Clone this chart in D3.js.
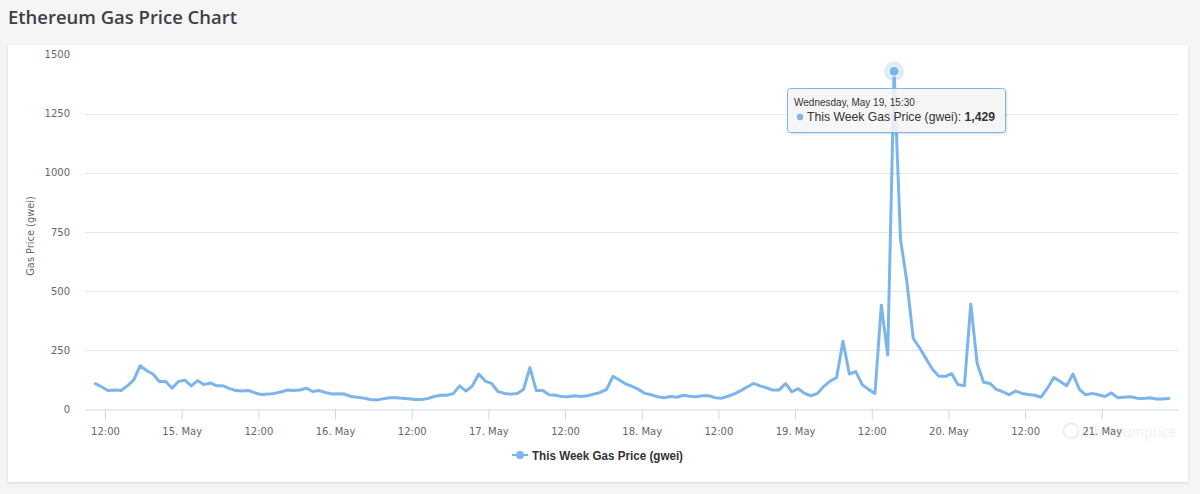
<!DOCTYPE html>
<html>
<head>
<meta charset="utf-8">
<script src="https://cdn.jsdelivr.net/npm/d3@7"></script>
<style>
  html, body { margin: 0; padding: 0; background: #f5f5f5; }
  svg { display: block; }
</style>
</head>
<body>
<svg id="chart" width="1200" height="494"></svg>
<script>
// ---- data ----
const chartTitle = "Ethereum Gas Price Chart";
const seriesName = "This Week Gas Price (gwei)";
const yAxisTitle = "Gas Price (gwei)";
const watermarkText = "ethereumprice";
const startTime = "2021-05-14T10:30:00Z"; // first sample, hourly samples
const gasPrice = [
  109, 95, 80, 82, 80, 100, 125, 185, 165, 150,
  118, 118, 90, 118, 124, 100, 122, 105, 112, 100,
  100, 88, 80, 78, 80, 70, 63, 65, 68, 74,
  82, 80, 82, 90, 76, 80, 72, 66, 67, 65,
  55, 52, 48, 42, 40, 45, 50, 50, 48, 45,
  42, 42, 46, 55, 60, 60, 67, 100, 78, 100,
  150, 120, 110, 76, 68, 65, 68, 85, 177, 80,
  80, 62, 60, 55, 54, 58, 55, 58, 65, 72,
  85, 140, 125, 108, 98, 85, 68, 62, 54, 50,
  55, 52, 60, 56, 54, 58, 58, 50, 48, 56,
  66, 80, 95, 110, 100, 92, 82, 82, 110, 75,
  88, 68, 58, 68, 98, 120, 135, 288, 150, 160,
  105, 85, 68, 441, 230, 1429, 720, 540, 300, 260,
  215, 170, 140, 140, 152, 105, 100, 445, 194, 115,
  110, 85, 75, 62, 78, 68, 63, 60, 52, 90,
  135, 118, 100, 150, 85, 62, 68, 62, 55, 70,
  50, 52, 54, 48, 46, 50, 44, 44, 46
];
const yTicks = [0, 250, 500, 750, 1000, 1250, 1500];
const xDomain = ["2021-05-14T08:52:00Z", "2021-05-21T11:56:00Z"];
const tooltipIndex = 125;

// ---- build ----
const svg = d3.select("#chart");
const color = "#7cb5ec";
const start = new Date(startTime);
const data = gasPrice.map((v, i) => ({ t: d3.utcHour.offset(start, i), v }));

// page title
svg.append("text")
  .attr("x", 8).attr("y", 24)
  .attr("font-family", "'Open Sans', sans-serif")
  .attr("font-size", 18).attr("font-weight", 600)
  .attr("fill", "#3b3f47")
  .attr("textLength", 229).attr("lengthAdjust", "spacingAndGlyphs")
  .text(chartTitle);

// panel shadow + panel
const defs = svg.append("defs");
const f = defs.append("filter").attr("id", "psh").attr("x", "-5%").attr("y", "-5%").attr("width", "110%").attr("height", "115%");
f.append("feDropShadow").attr("dx", 0).attr("dy", 1).attr("stdDeviation", 1.5).attr("flood-color", "#000").attr("flood-opacity", 0.12);
svg.append("rect").attr("x", 8).attr("y", 45).attr("width", 1180).attr("height", 437)
  .attr("fill", "#fff").attr("filter", "url(#psh)");

const x = d3.scaleUtc().domain(xDomain.map(d => new Date(d))).range([85, 1178]);
const y = d3.scaleLinear().domain([0, 1500]).range([409.5, 54.5]);

// watermark (behind everything in the plot)
const wm = svg.append("g");
wm.append("circle").attr("cx", 1071).attr("cy", 431).attr("r", 7.5)
  .attr("fill", "none").attr("stroke", "#efefef").attr("stroke-width", 2);
wm.append("text").attr("x", 1081).attr("y", 436.5)
  .attr("font-family", "'Open Sans', sans-serif").attr("font-size", 15)
  .attr("fill", "#efefef").attr("textLength", 95).attr("lengthAdjust", "spacingAndGlyphs")
  .text(watermarkText);

// grid lines
svg.append("g").selectAll("line").data(yTicks.filter(d => d > 0 && d < 1500)).join("line")
  .attr("x1", 85).attr("x2", 1178)
  .attr("y1", d => Math.round(y(d)) + 0.5).attr("y2", d => Math.round(y(d)) + 0.5)
  .attr("stroke", "#e6e6e6").attr("stroke-width", 1);

// y labels
svg.append("g").selectAll("text").data(yTicks).join("text")
  .attr("x", 70).attr("y", d => y(d) + 3.5)
  .attr("text-anchor", "end")
  .attr("font-family", "'DejaVu Sans', sans-serif").attr("font-size", 10)
  .attr("fill", "#666").text(d => d);

// y axis title
svg.append("text")
  .attr("transform", `translate(34,236) rotate(-90)`)
  .attr("text-anchor", "middle")
  .attr("font-family", "'DejaVu Sans', sans-serif").attr("font-size", 9.8)
  .attr("fill", "#666").text(yAxisTitle);

// x axis
const xTicks = d3.utcHour.every(12).range(new Date("2021-05-14T12:00:00Z"), new Date("2021-05-21T06:00:00Z"));
const fmtDay = d3.utcFormat("%-d. %b");
const fmtHour = d3.utcFormat("%H:%M");
const xAxis = d3.axisBottom(x).tickValues(xTicks)
  .tickFormat(d => d.getUTCHours() === 0 ? fmtDay(d) : fmtHour(d))
  .tickSize(10).tickSizeOuter(0).tickPadding(8);
const gx = svg.append("g").attr("transform", "translate(0,409.5)").call(xAxis);
gx.select(".domain").attr("stroke", "#ccd6eb");
gx.selectAll(".tick line").attr("stroke", "#ccd6eb");
gx.selectAll(".tick text").attr("fill", "#666")
  .attr("font-family", "'DejaVu Sans', sans-serif").attr("font-size", 10);

// line
const line = d3.line().x(d => x(d.t)).y(d => y(d.v)).curve(d3.curveLinear);
svg.append("path").datum(data)
  .attr("d", line).attr("fill", "none")
  .attr("stroke", color).attr("stroke-width", 3)
  .attr("stroke-linejoin", "round").attr("stroke-linecap", "round");

// hover marker
const hp = data[tooltipIndex];
svg.append("circle").attr("cx", x(hp.t)).attr("cy", y(hp.v)).attr("r", 10)
  .attr("fill", color).attr("fill-opacity", 0.25);
svg.append("circle").attr("cx", x(hp.t)).attr("cy", y(hp.v)).attr("r", 5)
  .attr("fill", color).attr("stroke", "#fff").attr("stroke-width", 1);

// tooltip
const tt = svg.append("g").attr("transform", "translate(787.5,88.5)");
const tsh = defs.append("filter").attr("id", "tsh").attr("x", "-10%").attr("y", "-20%").attr("width", "120%").attr("height", "150%");
tsh.append("feDropShadow").attr("dx", 1).attr("dy", 1).attr("stdDeviation", 1.2).attr("flood-color", "#000").attr("flood-opacity", 0.15);
tt.append("rect").attr("width", 218).attr("height", 44).attr("rx", 3)
  .attr("fill", "rgba(247,247,247,0.85)").attr("stroke", color).attr("stroke-width", 1)
  .attr("filter", "url(#tsh)");
const fmtTip = d3.utcFormat("%A, %b %-d, %H:%M");
tt.append("text").attr("x", 6.5).attr("y", 17)
  .attr("font-family", "'Liberation Sans', Arial, sans-serif").attr("font-size", 10)
  .attr("fill", "#333").text(fmtTip(hp.t));
tt.append("circle").attr("cx", 12.5).attr("cy", 28.5).attr("r", 3.2).attr("fill", color);
const t2 = tt.append("text").attr("x", 19.5).attr("y", 32.5)
  .attr("font-family", "'Liberation Sans', Arial, sans-serif").attr("font-size", 12.2)
  .attr("fill", "#333");
t2.append("tspan").text(seriesName + ": ");
t2.append("tspan").attr("font-weight", "bold").text(d3.format(",")(hp.v));

// legend
const lg = svg.append("g");
lg.append("line").attr("x1", 512).attr("x2", 528).attr("y1", 455).attr("y2", 455)
  .attr("stroke", color).attr("stroke-width", 2);
lg.append("circle").attr("cx", 520).attr("cy", 455).attr("r", 4).attr("fill", color);
lg.append("text").attr("x", 532).attr("y", 459.5)
  .attr("font-family", "'Liberation Sans', Arial, sans-serif").attr("font-size", 12)
  .attr("font-weight", "bold").attr("fill", "#333")
  .attr("textLength", 151).attr("lengthAdjust", "spacingAndGlyphs")
  .text(seriesName);
</script>
</body>
</html>
